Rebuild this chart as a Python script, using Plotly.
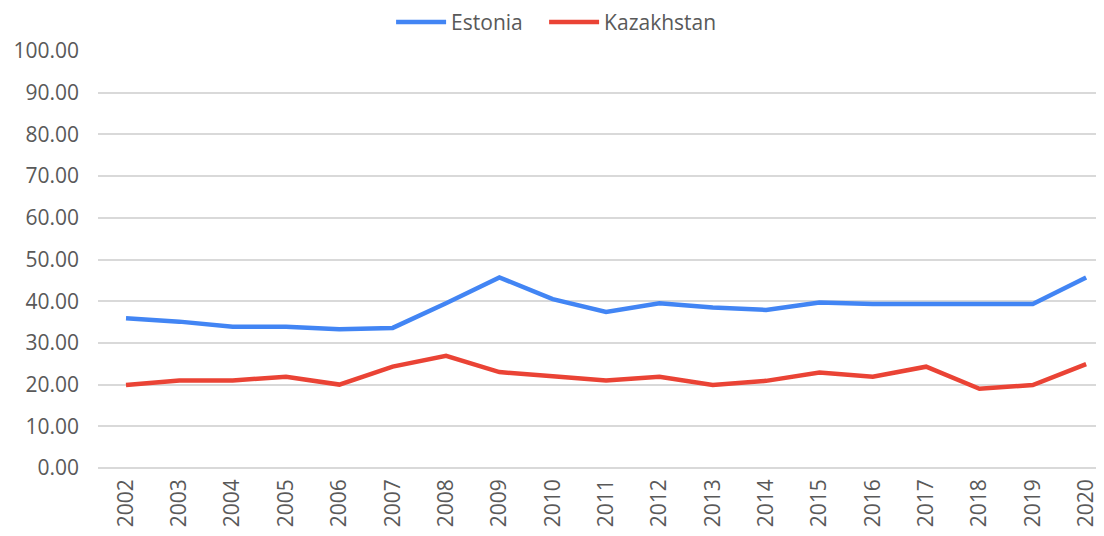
import plotly.graph_objects as go

years = [str(y) for y in range(2002, 2021)]
estonia = [35.9, 35.1, 33.9, 33.9, 33.3, 33.6, 39.5, 45.7, 40.5, 37.4, 39.5, 38.5, 37.9,
           39.7, 39.3, 39.3, 39.3, 39.3, 45.7]
kazakhstan = [19.9, 21.0, 21.0, 21.9, 20.0, 24.3, 26.9, 23.0, 22.0, 21.0, 21.9, 19.9, 20.9,
              22.9, 21.9, 24.3, 19.0, 19.9, 24.9]
y_ticks = [0, 10, 20, 30, 40, 50, 60, 70, 80, 90, 100]

fig = go.Figure()
fig.add_trace(go.Scatter(x=years, y=estonia, mode="lines", name="Estonia\u00a0\u00a0\u00a0",
                         line=dict(color="#4285F4", width=4.5)))
fig.add_trace(go.Scatter(x=years, y=kazakhstan, mode="lines", name="Kazakhstan",
                         line=dict(color="#EA4335", width=4.5)))

font_family = "Open Sans"
fig.update_layout(
    width=1104, height=536,
    margin=dict(l=90, r=12, t=43, b=76, autoexpand=False),
    paper_bgcolor="white", plot_bgcolor="white",
    font=dict(family=font_family, color="#595959", size=21),
    showlegend=True,
    legend=dict(orientation="h", x=0.347, xanchor="left", xref="container",
                y=1.118, yanchor="top", yref="paper",
                font=dict(size=21, color="#595959"), itemwidth=50,
                bgcolor="rgba(0,0,0,0)"),
    xaxis=dict(type="category", range=[-0.525, 18.26], tickangle=-90,
               showgrid=False, showline=False, zeroline=False, automargin=False,
               tickfont=dict(size=21, color="#595959"), ticklabelstandoff=6),
    yaxis=dict(range=[0, 100], tickvals=y_ticks, tickformat=".2f", automargin=False,
               showgrid=True, gridcolor="#d9d9d9", gridwidth=1.5,
               zeroline=True, zerolinecolor="#d9d9d9", zerolinewidth=1.5,
               showline=False, tickfont=dict(size=21, color="#595959"),
               ticklabelstandoff=18),
)

fig.write_html("out.html")
